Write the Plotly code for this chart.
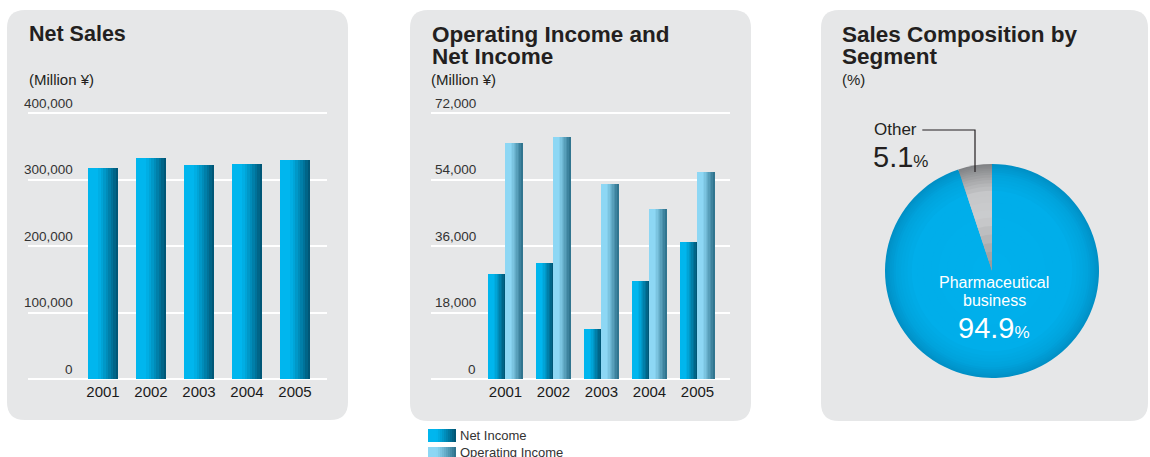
import plotly.graph_objects as go

W, H = 1150, 457

# ---------------- data ----------------
years = ["2001", "2002", "2003", "2004", "2005"]
net_sales = [317000, 332000, 322000, 323000, 329000]
net_income = [28500, 31400, 13600, 26600, 37100]
operating_income = [63900, 65500, 52800, 46000, 56000]
sales_ticks = [0, 100000, 200000, 300000, 400000]
sales_tick_labels = ["0", "100,000", "200,000", "300,000", "400,000"]
income_ticks = [0, 18000, 36000, 54000, 72000]
income_tick_labels = ["0", "18,000", "36,000", "54,000", "72,000"]
segments = ["Other", "Pharmaceutical business"]
segment_share = [5.1, 94.9]
income_series = ["Net Income", "Operating Income"]

FONT = "Liberation Sans, Arial, Helvetica, sans-serif"
DARK = "#231F20"
PANEL = "#E6E7E8"


def px(x):
    return x / W


def py(y):
    return 1 - y / H


def hex2rgb(h):
    h = h.lstrip("#")
    return tuple(int(h[i:i + 2], 16) for i in (0, 2, 4))


def lerp(c1, c2, t):
    a, b = hex2rgb(c1), hex2rgb(c2)
    return "rgb(%d,%d,%d)" % tuple(round(a[i] + (b[i] - a[i]) * t) for i in range(3))


def grad(light, dark, t):
    s = max(0.0, (t - 0.3) / 0.7) ** 1.15
    return lerp(light, dark, s)


def multi_stop(stops, t):
    for (p0, c0), (p1, c1) in zip(stops[:-1], stops[1:]):
        if p0 <= t <= p1:
            return lerp(c0, c1, (t - p0) / (p1 - p0) if p1 > p0 else 0)
    return lerp(stops[-1][1], stops[-1][1], 0)


fig = go.Figure()

N = 12


def add_gradient_bars(x, y, xa, ya, left, width, light, dark):
    sw = width / N
    for k in range(N):
        t = (k + 0.5) / N
        w = sw * 1.3 if k < N - 1 else sw
        fig.add_trace(go.Bar(
            x=x, y=y, offset=left + k * sw, width=w,
            marker=dict(color=grad(light, dark, t), line=dict(width=0)),
            xaxis=xa, yaxis=ya, showlegend=False, hoverinfo="skip"))


NS_LIGHT, NS_DARK = "#00B6EE", "#00506E"
OI_LIGHT, OI_DARK = "#8DD7F4", "#2A6E88"

UNIT = 48.0
y0px, ytop_px = 379.3, 113.0
pad = 2.0
span_px = y0px - ytop_px

add_gradient_bars(years, net_sales, "x", "y", -15 / UNIT, 30 / UNIT, NS_LIGHT, NS_DARK)
add_gradient_bars(years, net_income, "x2", "y2", -17 / UNIT, 17 / UNIT, NS_LIGHT, NS_DARK)
add_gradient_bars(years, operating_income, "x2", "y2", 0.0, 17 / UNIT, OI_LIGHT, OI_DARK)

# Pie: concentric stacked pies for a radial shading
cx, cy, R = 992.0, 271.0, 107.0
blue_stops = [(0.0, "#00B0EC"), (0.75, "#00AEEA"), (0.9, "#00A3DC"), (1.0, "#0090C6")]
gray_stops = [(0.0, "#8E8F91"), (0.25, "#ABACAE"), (0.55, "#CBCCCE"),
              (0.75, "#C6C7C9"), (0.88, "#A6A7A9"), (1.0, "#808285")]
fracs = [1.0, 0.985, 0.97, 0.955, 0.94, 0.92, 0.9, 0.875, 0.85, 0.82, 0.79, 0.75,
         0.7, 0.64, 0.57, 0.5, 0.42, 0.34, 0.26, 0.18, 0.1]
pie_labels = segments[::-1]
pie_values = segment_share[::-1]
for f in fracs:
    r = R * f
    fig.add_trace(go.Pie(
        labels=pie_labels, values=pie_values, sort=False,
        direction="clockwise", rotation=0,
        marker=dict(colors=[multi_stop(blue_stops, f), multi_stop(gray_stops, f)],
                    line=dict(width=0)),
        textinfo="none", hoverinfo="skip", showlegend=False,
        domain=dict(x=[px(cx - r), px(cx + r)], y=[py(cy + r), py(cy - r)])))


def xaxis_cfg(left_px, right_px, c0_px, anchor):
    lo = -(c0_px - left_px) / UNIT
    hi = (len(years) - 1) + (right_px - (c0_px + (len(years) - 1) * UNIT)) / UNIT
    return dict(domain=[px(left_px), px(right_px)], type="category",
                categoryorder="array", categoryarray=years, anchor=anchor,
                range=[lo, hi], showgrid=False, zeroline=False, showline=False,
                ticks="", tickfont=dict(family=FONT, size=15, color="#1A1A1A"),
                fixedrange=True)


def yaxis_cfg(top_val, ticks, anchor):
    padv = pad * top_val / span_px
    return dict(domain=[py(y0px + pad), py(ytop_px - pad)],
                range=[-padv, top_val + padv], tickvals=ticks,
                showticklabels=False, showgrid=True, gridcolor="white",
                gridwidth=1.5, zeroline=False, showline=False, ticks="",
                anchor=anchor, fixedrange=True)


shapes = []


def rounded_rect(x0, y0, x1, y1, r):
    rx, ry = r / W, r / H
    X0, X1 = px(x0), px(x1)
    Y0, Y1 = py(y0), py(y1)
    path = (f"M {X0 + rx},{Y0} L {X1 - rx},{Y0} Q {X1},{Y0} {X1},{Y0 - ry} "
            f"L {X1},{Y1 + ry} Q {X1},{Y1} {X1 - rx},{Y1} "
            f"L {X0 + rx},{Y1} Q {X0},{Y1} {X0},{Y1 + ry} "
            f"L {X0},{Y0 - ry} Q {X0},{Y0} {X0 + rx},{Y0} Z")
    return dict(type="path", xref="paper", yref="paper", path=path,
                fillcolor=PANEL, line=dict(width=0), layer="below")


shapes.append(rounded_rect(7, 10, 348, 420, 18))
shapes.append(rounded_rect(410, 10, 751, 421, 18))
shapes.append(rounded_rect(821, 10, 1148, 421, 18))

shapes.append(dict(type="path", xref="paper", yref="paper",
                   path=f"M {px(922.3)},{py(130)} L {px(975)},{py(130)} L {px(975)},{py(172)}",
                   line=dict(color=DARK, width=1.2), layer="above"))

LN = 14
for row, (light, dark) in enumerate([(NS_LIGHT, NS_DARK), (OI_LIGHT, OI_DARK)]):
    top = 429 + row * 18
    for k in range(LN):
        xa = 428 + 28 * k / LN
        xb = 428 + 28 * (k + 1) / LN + (0.4 if k < LN - 1 else 0)
        shapes.append(dict(type="rect", xref="paper", yref="paper",
                           x0=px(xa), x1=px(xb), y0=py(top + 13), y1=py(top),
                           fillcolor=grad(light, dark, (k + 0.5) / LN),
                           line=dict(width=0), layer="above"))

ann = []


def text(x, y, s, size, color=DARK, anchor="left", xref="paper", yref="paper",
         yshift=0, family=FONT):
    ann.append(dict(x=x, y=y, xref=xref, yref=yref, text=s, showarrow=False,
                    xanchor=anchor, yanchor="middle", yshift=yshift,
                    font=dict(family=family, size=size, color=color)))


text(px(27), py(34), "<b>Net Sales</b>", 21.5)
text(px(27), py(79), "(Million ¥)", 15)
text(px(429.5), py(35), "<b>Operating Income and</b>", 22.5)
text(px(429.5), py(56.5), "<b>Net Income</b>", 22.5)
text(px(429), py(79), "(Million ¥)", 15)
text(px(840), py(35), "<b>Sales Composition by</b>", 22.5)
text(px(840), py(56.5), "<b>Segment</b>", 22.5)
text(px(840), py(79), "(%)", 15)

for v, lab in zip(sales_ticks, sales_tick_labels):
    text(px(75), v, lab, 13.5, color="#333333", anchor="right", yref="y", yshift=10)
for v, lab in zip(income_ticks, income_tick_labels):
    text(px(477.5), v, lab, 13.5, color="#333333", anchor="right", yref="y2", yshift=10)

text(px(872), py(130), segments[0], 17)
text(px(871), py(157), f"{segment_share[0]}<span style='font-size:17px'>%</span>", 29)
seg_words = segments[1].split(" ")
text(px(994), py(282), seg_words[0], 16, color="white", anchor="center")
text(px(994), py(300.5), seg_words[1], 16, color="white", anchor="center")
text(px(994), py(328), f"{segment_share[1]}<span style='font-size:17px'>%</span>", 29,
     color="white", anchor="center")

text(px(458), py(435.5), income_series[0], 13, color="#333333")
text(px(458), py(452.5), income_series[1], 13, color="#333333")

fig.update_layout(
    width=W, height=H, margin=dict(l=0, r=0, t=0, b=0),
    paper_bgcolor="white", plot_bgcolor="rgba(0,0,0,0)",
    barmode="overlay", bargap=0,
    xaxis=xaxis_cfg(28, 327, 103, "y"),
    yaxis=yaxis_cfg(400000, sales_ticks, "x"),
    xaxis2=xaxis_cfg(431, 730, 505.5, "y2"),
    yaxis2=yaxis_cfg(72000, income_ticks, "x2"),
    shapes=shapes, annotations=ann, showlegend=False,
    font=dict(family=FONT),
)

fig.write_html("out.html")
